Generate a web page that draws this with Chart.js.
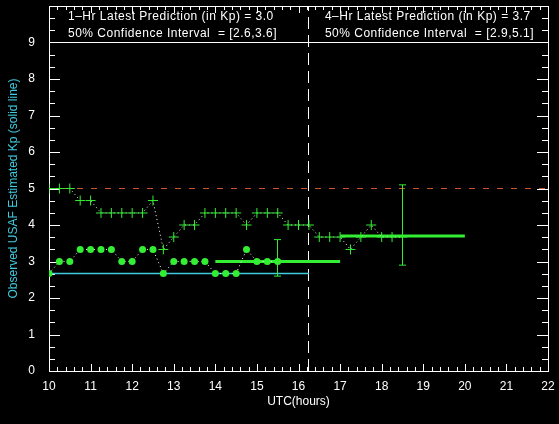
<!DOCTYPE html>
<html>
<head>
<meta charset="utf-8">
<script src="https://cdn.jsdelivr.net/npm/chart.js@4"></script>
<style>
  html, body { margin: 0; padding: 0; background: #000; }
  #wrap { width: 559px; height: 424px; }
</style>
</head>
<body>
<div id="wrap"><canvas id="kpChart"></canvas></div>
<script>
// DANE
const obsTimes = [10, 10.25, 10.5, 10.75, 11, 11.25, 11.5, 11.75, 12, 12.25, 12.5, 12.75,
  13, 13.25, 13.5, 13.75, 14, 14.25, 14.5, 14.75, 15, 15.25, 15.5];
const obsKp = [2.67, 3, 3, 3.33, 3.33, 3.33, 3.33, 3, 3, 3.33, 3.33, 2.67,
  3, 3, 3, 3, 2.67, 2.67, 2.67, 3.33, 3, 3, 3];

const predTimes = [10, 10.25, 10.5, 10.75, 11, 11.25, 11.5, 11.75, 12, 12.25, 12.5, 12.75,
  13, 13.25, 13.5, 13.75, 14, 14.25, 14.5, 14.75, 15, 15.25, 15.5, 15.75,
  16, 16.25, 16.5, 16.75, 17, 17.25, 17.5, 17.75, 18, 18.25, 18.5];
const predKp = [5, 5, 5, 4.67, 4.67, 4.33, 4.33, 4.33, 4.33, 4.33, 4.67, 3.33,
  3.67, 4, 4, 4.33, 4.33, 4.33, 4.33, 4, 4.33, 4.33, 4.33, 4,
  4, 4, 3.67, 3.67, 3.67, 3.33, 3.67, 4, 3.67, 3.67, 3.67];

const usafLevel = 2.67;      // linia ciagla (cyjan)
const stormLevel = 5;        // czerwona przerywana
const nowHour = 16.25;       // biala przerywana pionowa
const headerLevel = 9;       // linia oddzielajaca tekst

// prognozy 1h i 4h
const fcLabels = ["1\u2013Hr", "4\u2013Hr"];
const fcKp = [3.0, 3.7];
const fcStart = [14, 17];
const fcEnd = [17, 20];
const fcMid = [15.5, 18.5];
const fcLow = [2.6, 2.9];
const fcHigh = [3.6, 5.1];

const xMin = 10, xMax = 22, yMin = 0, yMax = 10;

const GREEN = "#33ee33";
const CYAN = "#40cce0";
const RED = "#cc5533";
const FONT = "'Liberation Sans', Arial, sans-serif";

const xy = (xs, ys) => xs.map((x, i) => ({ x: x, y: ys[i] }));

const datasets = [
  {
    label: "obs",
    data: xy(obsTimes, obsKp),
    borderColor: "#fff",
    borderWidth: 1,
    borderDash: [1, 3],
    pointStyle: "circle",
    pointRadius: 3.5,
    pointBorderWidth: 0,
    pointBackgroundColor: GREEN,
    pointBorderColor: GREEN,
    order: 1,
  },
  {
    label: "pred",
    data: xy(predTimes, predKp),
    borderColor: "#fff",
    borderWidth: 1,
    borderDash: [1, 3],
    pointStyle: "cross",
    pointRadius: 5,
    pointBorderWidth: 1,
    pointBorderColor: GREEN,
    order: 1,
  },
  {
    label: "usaf",
    data: [{ x: xMin, y: usafLevel }, { x: nowHour, y: usafLevel }],
    borderColor: CYAN,
    backgroundColor: CYAN,
    borderWidth: 1.5,
    pointRadius: 0,
    order: 4,
  },
  {
    label: "storm",
    data: [{ x: xMin, y: stormLevel }, { x: xMax, y: stormLevel }],
    borderColor: RED,
    borderWidth: 1,
    borderDash: [6, 8],
    pointRadius: 0,
    snap: "y",
    order: 5,
  },
  {
    label: "now",
    data: [{ x: nowHour, y: yMin }, { x: nowHour, y: yMax }],
    borderColor: "#fff",
    borderWidth: 1,
    borderDash: [12, 6],
    pointRadius: 0,
    snap: "x",
    order: 5,
  },
  {
    label: "header",
    data: [{ x: xMin, y: headerLevel }, { x: xMax, y: headerLevel }],
    borderColor: "#fff",
    borderWidth: 1,
    pointRadius: 0,
    snap: "y",
    order: 5,
  },
];

fcKp.forEach((kp, i) => {
  datasets.push({
    label: fcLabels[i] + " level",
    data: [{ x: fcStart[i], y: kp }, { x: fcEnd[i], y: kp }],
    borderColor: GREEN,
    borderWidth: 3,
    pointRadius: 0,
    order: 3,
  });
  datasets.push({
    label: fcLabels[i] + " CI",
    data: [{ x: fcMid[i], y: fcLow[i] }, { x: fcMid[i], y: fcHigh[i] }],
    borderColor: GREEN,
    borderWidth: 1,
    pointStyle: "line",
    pointRadius: 3.5,
    pointBorderWidth: 1,
    pointBorderColor: GREEN,
    snap: "x",
    order: 2,
  });
});

// cienkie linie 1px dociagniete do pikseli, zeby nie byly rozmyte
const pixelSnap = {
  id: "pixelSnap",
  beforeDatasetDraw(chart, args) {
    const ds = chart.data.datasets[args.index];
    if (!ds.snap) return;
    const pt = args.meta.data[0];
    const v = ds.snap === "y" ? pt.y : pt.x;
    const off = Math.floor(v) + 0.5 - v;
    chart.ctx.save();
    if (ds.snap === "y") chart.ctx.translate(0, off);
    else chart.ctx.translate(off, 0);
  },
  afterDatasetDraw(chart, args) {
    if (chart.data.datasets[args.index].snap) chart.ctx.restore();
  },
};

// ramka + male kreski do srodka
const frameTicks = {
  id: "frameTicks",
  beforeDatasetsDraw(chart) {
    const { ctx, chartArea: a, scales: { x, y } } = chart;
    ctx.save();
    ctx.strokeStyle = "#fff";
    ctx.lineWidth = 1;
    ctx.strokeRect(Math.round(a.left) + 0.5, Math.round(a.top) + 0.5,
      Math.round(a.right - a.left), Math.round(a.bottom - a.top));
    ctx.beginPath();
    for (let i = 0; i <= (xMax - xMin) * 5; i++) {
      const v = xMin + i / 5;
      const px = Math.round(x.getPixelForValue(v)) + 0.5;
      const len = i % 5 === 0 ? 7 : 4;
      ctx.moveTo(px, a.bottom);
      ctx.lineTo(px, a.bottom - len);
      ctx.moveTo(px, a.top);
      ctx.lineTo(px, a.top + len);
    }
    for (let i = 0; i <= (yMax - yMin) * 3; i++) {
      const v = yMin + i / 3;
      const py = Math.round(y.getPixelForValue(v)) + 0.5;
      const len = i % 3 === 0 ? 11 : 6;
      ctx.moveTo(a.left, py);
      ctx.lineTo(a.left + len, py);
      ctx.moveTo(a.right, py);
      ctx.lineTo(a.right - len, py);
    }
    ctx.stroke();
    ctx.restore();
  },
  afterDraw(chart) {
    const { ctx, chartArea: a, scales: { x } } = chart;
    ctx.save();
    ctx.fillStyle = "#fff";
    ctx.font = "12px " + FONT;
    ctx.letterSpacing = "0.5px";
    ctx.textBaseline = "middle";
    const lefts = [a.left + 19, x.getPixelForValue(nowHour) + 16];
    fcLabels.forEach((lab, i) => {
      ctx.fillText(lab + " Latest Prediction (in Kp) = " + fcKp[i].toFixed(1), lefts[i], 17);
      ctx.fillText("50% Confidence Interval  = [" + fcLow[i].toFixed(1) + "," + fcHigh[i].toFixed(1) + "]", lefts[i], 34);
    });
    ctx.restore();
  },
};

new Chart(document.getElementById("kpChart"), {
  type: "line",
  data: { datasets: datasets },
  options: {
    responsive: true,
    maintainAspectRatio: false,
    animation: false,
    layout: { padding: { top: 4, right: 11, left: 0, bottom: 0 } },
    plugins: { legend: { display: false }, tooltip: { enabled: false } },
    scales: {
      x: {
        type: "linear",
        min: xMin,
        max: xMax,
        grid: { display: false },
        border: { display: false },
        ticks: { stepSize: 1, color: "#fff", padding: 0, font: { family: FONT, size: 12 } },
        title: { display: true, text: "UTC(hours)", color: "#fff", padding: { top: 0, bottom: 15 }, font: { family: FONT, size: 12 } },
        afterFit(s) { s.height = 53; s.paddingLeft = 0; s.paddingRight = 0; },
      },
      y: {
        type: "linear",
        min: yMin,
        max: yMax,
        grid: { display: false },
        border: { display: false },
        ticks: {
          stepSize: 1,
          color: "#fff",
          padding: 6,
          font: { family: FONT, size: 12 },
          callback: (v) => (v > headerLevel ? "" : v),
        },
        title: { display: true, text: "Observed USAF Estimated Kp (solid line)", color: CYAN, padding: { top: 6, bottom: 0 }, font: { family: FONT, size: 12 } },
        afterFit(s) { s.width = 49; s.paddingTop = 0; s.paddingBottom = 0; },
      },
    },
  },
  plugins: [frameTicks, pixelSnap],
});
</script>
</body>
</html>
